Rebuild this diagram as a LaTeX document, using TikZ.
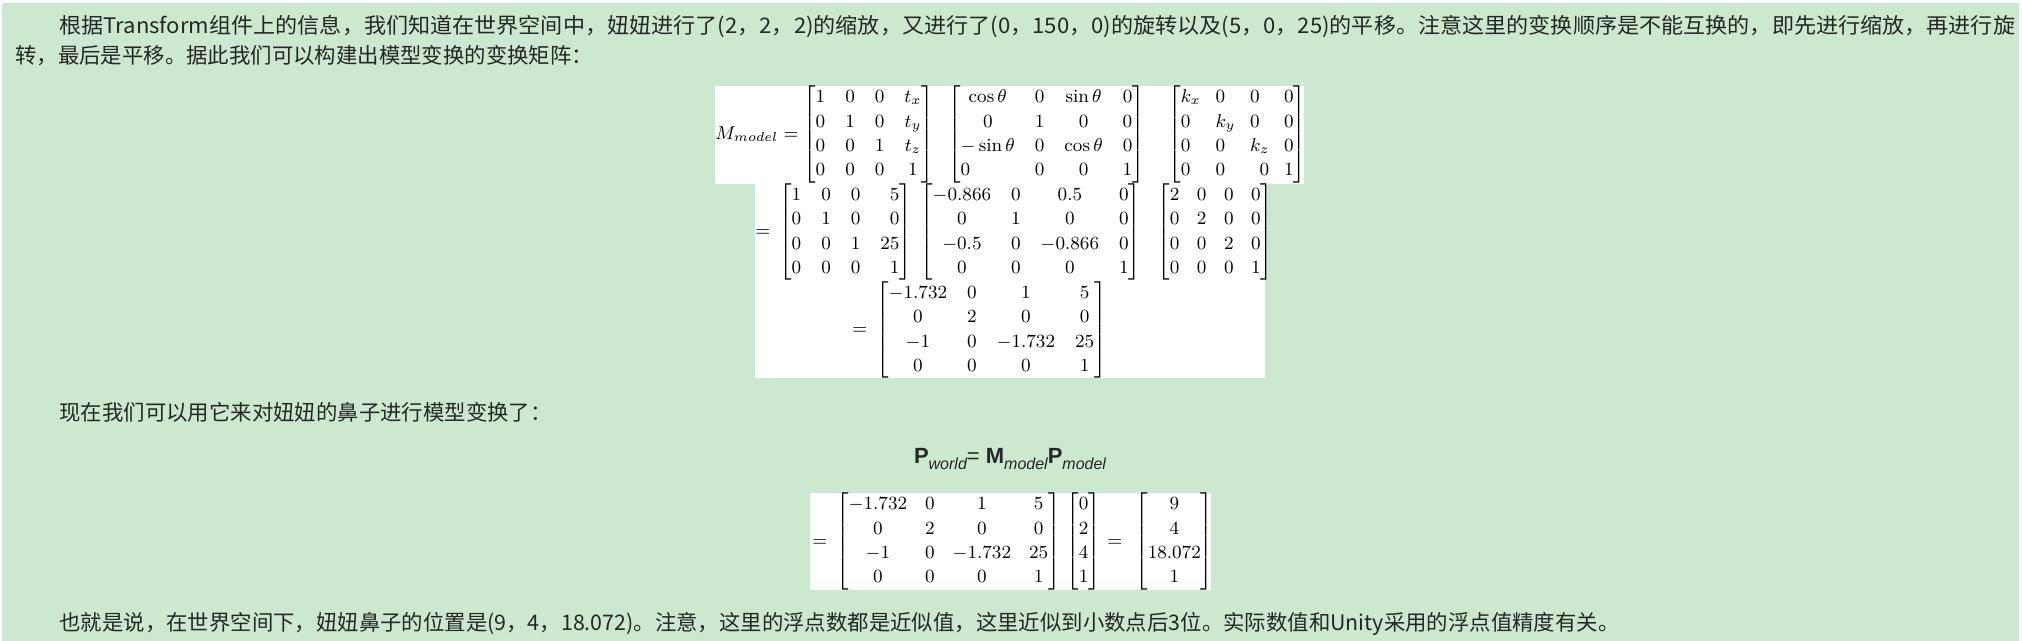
\RequirePackage{fix-cm}
\documentclass[tikz,border=0pt]{standalone}
\usepackage{mathtools}
\usepackage{fontspec}
\usepackage{graphicx}
\newfontfamily\cjk{Noto Sans CJK SC}
\newfontfamily\websans{Liberation Sans}
\definecolor{notegreen}{RGB}{204,232,207}
\definecolor{notetext}{RGB}{38,38,38}
\def\mfont{\fontsize{9.3}{12.2}\selectfont}
\def\cfont{\cjk\fontsize{10.7}{13}\selectfont}
\def\wsub#1{\raisebox{-3pt}{\fontsize{8}{9}\selectfont\itshape #1}}

\begin{document}
\begin{tikzpicture}[x=0.5pt,y=-0.5pt,
    line/.style={anchor=base west,inner sep=0pt,font=\cfont,text=notetext},
    mat/.style={anchor=west,inner sep=0pt,font=\mfont},
    eq/.style={anchor=base west,inner sep=0pt,font=\mfont}]
  \useasboundingbox (0,0) rectangle (2022,641);
  \fill[notegreen] (2,3) rectangle (2019,641);
  \fill[white] (715,86) rectangle (1304,184);
  \fill[white] (755,184) rectangle (1265,378);
  \fill[white] (810,493) rectangle (1211,590);
  % paragraph text
  \node[line] (para1) at (59,33.5) {\scalebox{1.033}[1]{根据Transform组件上的信息，我们知道在世界空间中，妞妞进行了(2，2，2)的缩放，又进行了(0，150，0)的旋转以及(5，0，25)的平移。注意这里的变换顺序是不能互换的，即先进行缩放，再进行旋}};
  \node[line] (para2) at (15,64) {转，最后是平移。据此我们可以构建出模型变换的变换矩阵：};
  \node[line] (para3) at (59,420) {现在我们可以用它来对妞妞的鼻子进行模型变换了：};
  \node[line] (para4) at (59,630) {也就是说，在世界空间下，妞妞鼻子的位置是(9，4，18.072)。注意，这里的浮点数都是近似值，这里近似到小数点后3位。实际数值和Unity采用的浮点值精度有关。};
  % model matrix, first row
  \node[eq] (mlabel) at (715,139.2) {$M_{model} =$};
  \node[mat] (trans) at (803,134.5) {$\begin{bmatrix}1&0&0&t_x\\0&1&0&t_y\\0&0&1&t_z\\0&0&0&1\end{bmatrix}$};
  \node[mat] (rot) at (948,134.5) {$\begin{bmatrix}\cos\theta&0&\sin\theta&0\\0&1&0&0\\-\sin\theta&0&\cos\theta&0\\0\hfill&0&0&1\end{bmatrix}$};
  \node[mat] (scl) at (1168,134.5) {\setlength{\arraycolsep}{3.7pt}$\begin{bmatrix*}[l]k_x&0&0&0\\0&k_y&0&0\\0&0&k_z&0\\0&0&\hfill0&1\end{bmatrix*}$};
  % second row
  \node[eq] (eqa) at (755,236.7) {$=$};
  \node[mat] (transv) at (779,232) {$\begin{bmatrix*}[r]1&0&0&5\\0&1&0&0\\0&0&1&25\\0&0&0&1\end{bmatrix*}$};
  \node[mat] (rotv) at (920,232) {$\begin{bmatrix}-0.866&0&0.5&0\\0&1&0&0\\-0.5&0&-0.866&0\\0&0&0&1\end{bmatrix}$};
  \node[mat] (sclv) at (1157,232) {\setlength{\arraycolsep}{4.4pt}$\begin{bmatrix}2&0&0&0\\0&2&0&0\\0&0&2&0\\0&0&0&1\end{bmatrix}$};
  % third row
  \node[eq] (eqb) at (852,334.7) {$=$};
  \node[mat] (model) at (876,330) {$\begin{bmatrix}-1.732&0&1&5\\0&2&0&0\\-1&0&-1.732&25\\0&0&0&1\end{bmatrix}$};
  % nose position
  \node[anchor=base,inner sep=0pt,font=\websans\fontsize{11}{13}\selectfont,text=notetext] (pworld) at (1010,463)
    {\textbf{P}\wsub{world}= \textbf{M}\wsub{model}\textbf{P}\wsub{model}};
  \node[eq] (eqc) at (812,546.2) {$=$};
  \node[mat] (modelb) at (836,541.5) {\setlength{\arraycolsep}{4.5pt}$\begin{bmatrix}-1.732&0&1&5\\0&2&0&0\\-1&0&-1.732&25\\0&0&0&1\end{bmatrix}$};
  \node[mat] (nose) at (1066,541.5) {$\begin{bmatrix}0\\2\\4\\1\end{bmatrix}$};
  \node[eq] (eqd) at (1107,546.2) {$=$};
  \node[mat] (world) at (1135,541.5) {$\begin{bmatrix}9\\4\\18.072\\1\end{bmatrix}$};
\end{tikzpicture}
\end{document}
